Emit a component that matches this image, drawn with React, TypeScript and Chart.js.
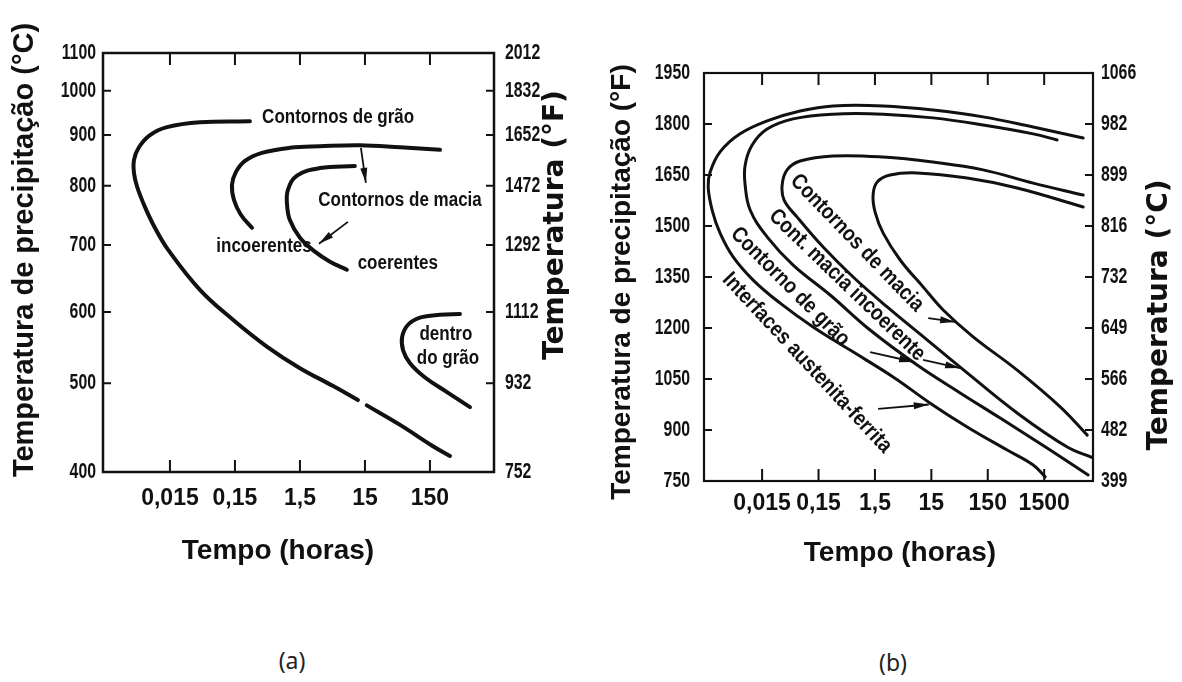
import React, { useEffect, useRef } from "react";
import { Chart, registerables, LinearScale } from "chart.js";

// ================= Panel (a): time (h) vs temperature (°C) =================
const aTimeTicks = [0.015, 0.15, 1.5, 15, 150];
const aTimeTickLabels = ["0,015", "0,15", "1,5", "15", "150"];
const aTempTicksC = [400, 500, 600, 700, 800, 900, 1000, 1100];
const aTempTickLabelsF = ["752", "932", "1112", "1292", "1472", "1652", "1832", "2012"];

// "Contornos de grão" (has a small break in the printed line)
const aGrainTime = [0.255, 0.0434, 0.0135, 0.0074, 0.005, 0.0042, 0.0042, 0.0047, 0.0062, 0.0088, 0.014, 0.0434, 0.14, 0.47, 1.5, 4.8, 11.7, 13.5, 16, 52, 167, 305];
const aGrainTemp = [931, 929, 918, 900, 876, 851, 825, 798, 764, 729, 693, 633, 589, 551, 521, 497, 481, null, 475, 453, 429, 418];
// "Contornos de macia incoerentes"
const aIncoherentTime = [214, 52, 12.6, 3.05, 1.05, 0.39, 0.214, 0.155, 0.135, 0.145, 0.185, 0.274];
const aIncoherentTemp = [871, 876, 880, 878, 875, 865, 849, 827, 802, 776, 751, 729];
// "Contornos de macia coerentes"
const aCoherentTime = [10.5, 3.05, 1.35, 0.98, 0.95, 1.05, 1.5, 2.55, 4.35, 7.9];
const aCoherentTemp = [839, 835, 820, 793, 768, 742, 712, 690, 675, 663];
// "dentro do grão"
const aInGrainTime = [434, 214, 105, 69, 56, 58, 74, 126, 274, 619];
const aInGrainTemp = [597, 596, 592, 582, 565, 546, 528, 508, 490, 473];

// ================= Panel (b): time (h) vs temperature (°F) =================
const bTimeTicks = [0.015, 0.15, 1.5, 15, 150, 1500];
const bTimeTickLabels = ["0,015", "0,15", "1,5", "15", "150", "1500"];
const bTempTicksF = [750, 900, 1050, 1200, 1350, 1500, 1650, 1800, 1950];
const bTempTickLabelsC = ["399", "482", "566", "649", "732", "816", "899", "982", "1066"];

// "Interfaces austenita-ferrita"
const bInterfaceTime = [7360, 957, 124, 16.1, 2.1, 0.272, 0.0708, 0.0184, 0.0061, 0.0027, 0.0018, 0.00166, 0.00195, 0.0027, 0.0046, 0.0104, 0.0313, 0.12, 0.544, 3.15, 14.3, 64.7, 331, 957, 1563];
const bInterfaceTemp = [1759, 1791, 1821, 1841, 1853, 1853, 1838, 1809, 1771, 1718, 1659, 1615, 1547, 1479, 1409, 1341, 1273, 1203, 1135, 1056, 979, 909, 841, 797, 762];
// "Contorno de grão"
const bGrainTime = [2547, 957, 124, 16.1, 2.1, 0.272, 0.0532, 0.0184, 0.01, 0.0075, 0.0075, 0.0092, 0.0184, 0.0532, 0.241, 1.23, 8.4, 48.6, 249, 1914, 9030];
const bGrainTemp = [1753, 1771, 1797, 1818, 1829, 1829, 1815, 1785, 1738, 1679, 1621, 1547, 1468, 1385, 1297, 1194, 1091, 1009, 935, 841, 768];
// "Cont. macia incoerente"
const bIncoherentTime = [7360, 957, 124, 16.1, 2.1, 0.272, 0.0708, 0.0416, 0.034, 0.0368, 0.0627, 0.181, 0.616, 2.47, 12.6, 64.7, 498, 3840, 11000];
const bIncoherentTemp = [1591, 1626, 1665, 1688, 1703, 1706, 1691, 1665, 1621, 1576, 1526, 1438, 1350, 1262, 1165, 1068, 950, 850, 818];
// "Contornos de macia"
const bTwinTime = [7360, 498, 64.7, 8.4, 2.79, 1.64, 1.39, 1.51, 2.1, 4.2, 10.7, 24.3, 82.6, 498, 2884, 8690];
const bTwinTemp = [1556, 1612, 1641, 1656, 1650, 1629, 1591, 1541, 1479, 1400, 1321, 1253, 1174, 1076, 968, 885];

// ================= styling =================
const INK = "#111";
const SANS = "'Liberation Sans', Arial, sans-serif";
const WIDE = "'DejaVu Sans', sans-serif";

// Scale whose printed tick spacing is not linear (panel a temperature axis)
class PiecewiseScale extends LinearScale {
  static id = "piecewise";
  static defaults = {};
  frac(v: number) {
    const vs = this.options.knotValues;
    const fs = this.options.knotFractions;
    const n = vs.length;
    let i = 1;
    if (v > vs[n - 1]) i = n - 1;
    else while (i < n - 1 && v > vs[i]) i++;
    return fs[i - 1] + ((v - vs[i - 1]) * (fs[i] - fs[i - 1])) / (vs[i] - vs[i - 1]);
  }
  getPixelForValue(v: any) {
    if (v === null || v === undefined || isNaN(v)) return NaN;
    return this.getPixelForDecimal(this.frac(v));
  }
  getValueForPixel(p: number) {
    const d = this.getDecimalForPixel(p);
    const vs = this.options.knotValues;
    const fs = this.options.knotFractions;
    const n = vs.length;
    let i = 1;
    while (i < n - 1 && d > fs[i]) i++;
    return vs[i - 1] + ((d - fs[i - 1]) * (vs[i] - vs[i - 1])) / (fs[i] - fs[i - 1]);
  }
}

Chart.register(...registerables, PiecewiseScale);

const zip = (ts: number[], vs: (number | null)[]) => ts.map((t, i) => ({ x: t, y: vs[i] }));

const curve = (data: any[], width: number) => ({
  data,
  showLine: true,
  borderColor: INK,
  backgroundColor: INK,
  borderWidth: width,
  pointRadius: 0,
  tension: 0.4,
  fill: false,
  spanGaps: false,
  borderCapStyle: "round",
  borderJoinStyle: "round",
});

function squeezed(ctx: any, text: string, x: number, y: number, sx: number, align: string) {
  ctx.save();
  ctx.translate(x, y);
  ctx.scale(sx, 1);
  ctx.textAlign = align;
  ctx.textBaseline = "middle";
  ctx.fillText(text, 0, 0);
  ctx.restore();
}

function decor(cfg: any) {
  return {
    id: "decor",
    afterDraw(chart: any) {
      const { ctx, chartArea: ca } = chart;
      const xs = chart.scales.x;
      const ys = chart.scales.y;
      const ys2 = chart.scales.y2;
      ctx.save();
      ctx.strokeStyle = INK;
      ctx.fillStyle = INK;
      ctx.lineWidth = cfg.tickWidth;
      ctx.beginPath();
      for (const t of xs.ticks) {
        const p = xs.getPixelForValue(t.value);
        ctx.moveTo(p, ca.bottom);
        ctx.lineTo(p, ca.bottom - cfg.xTick);
        ctx.moveTo(p, ca.top);
        ctx.lineTo(p, ca.top + cfg.xTick);
      }
      for (const t of ys.ticks) {
        const p = ys.getPixelForValue(t.value);
        ctx.moveTo(ca.left, p);
        ctx.lineTo(ca.left + cfg.yTick, p);
        ctx.moveTo(ca.right, p);
        ctx.lineTo(ca.right - cfg.yTick, p);
      }
      ctx.stroke();
      ctx.lineWidth = cfg.frameWidth;
      ctx.strokeRect(ca.left, ca.top, ca.right - ca.left, ca.bottom - ca.top);

      // condensed temperature tick labels on both sides
      ctx.font = cfg.yTickFont;
      ys.ticks.forEach((t: any, i: number) => {
        squeezed(ctx, cfg.leftLabels[i], ca.left - cfg.leftPad, ys.getPixelForValue(t.value), cfg.squeeze, "right");
      });
      ys2.ticks.forEach((t: any, i: number) => {
        squeezed(ctx, cfg.rightLabels[i], ca.right + cfg.rightPad, ys2.getPixelForValue(t.value), cfg.squeeze, "left");
      });

      for (const tt of cfg.titles) {
        ctx.save();
        ctx.translate(tt.x, tt.y);
        ctx.rotate((tt.rot * Math.PI) / 180);
        ctx.font = tt.font;
        ctx.textAlign = "center";
        ctx.textBaseline = "middle";
        ctx.fillText(tt.text, 0, 0);
        ctx.restore();
      }
      ctx.font = cfg.labelFont;
      for (const l of cfg.labels) {
        const px = xs.getPixelForValue(l.t);
        const py = ys.getPixelForValue(l.v);
        ctx.save();
        ctx.translate(px, py);
        ctx.rotate(((l.angle || 0) * Math.PI) / 180);
        squeezed(ctx, l.text, 0, 0, cfg.labelSqueeze, "center");
        ctx.restore();
      }
      for (const a of cfg.arrows) {
        const x1 = xs.getPixelForValue(a.from[0]);
        const y1 = ys.getPixelForValue(a.from[1]);
        const x2 = xs.getPixelForValue(a.to[0]);
        const y2 = ys.getPixelForValue(a.to[1]);
        ctx.lineWidth = 1.8;
        ctx.beginPath();
        ctx.moveTo(x1, y1);
        ctx.lineTo(x2, y2);
        ctx.stroke();
        const ang = Math.atan2(y2 - y1, x2 - x1);
        ctx.save();
        ctx.translate(x2, y2);
        ctx.rotate(ang);
        ctx.beginPath();
        ctx.moveTo(0, 0);
        ctx.lineTo(-15, -3.5);
        ctx.lineTo(-15, 3.5);
        ctx.closePath();
        ctx.fill();
        ctx.restore();
      }
      ctx.restore();
    },
  };
}

const timeFont = { family: SANS, size: 23, weight: "bold" };

function timeAxis(min: number, max: number, ticks: number[], labels: string[], height: number, padding: number) {
  return {
    type: "logarithmic",
    position: "bottom",
    min,
    max,
    bounds: "data",
    afterBuildTicks: (s: any) => {
      s.ticks = ticks.map((v) => ({ value: v }));
    },
    afterFit: (s: any) => {
      s.height = height;
    },
    grid: { display: false, drawTicks: false },
    border: { display: false },
    ticks: {
      autoSkip: false,
      maxRotation: 0,
      minRotation: 0,
      padding,
      color: INK,
      font: timeFont,
      callback: (_v: any, i: number) => labels[i],
    },
  };
}

function tempAxis(extra: any, position: string, ticks: number[], width: number) {
  return {
    ...extra,
    position,
    bounds: "data",
    afterBuildTicks: (s: any) => {
      s.ticks = ticks.map((v) => ({ value: v }));
    },
    afterFit: (s: any) => {
      s.width = width;
    },
    grid: { display: false, drawTicks: false },
    border: { display: false },
    ticks: { display: false },
  };
}

function configA() {
  const knots = {
    type: "piecewise",
    min: 400,
    max: 1100,
    knotValues: aTempTicksC,
    knotFractions: [0, 0.212, 0.382, 0.542, 0.683, 0.804, 0.91, 1],
  };
  return {
    type: "scatter",
    data: {
      datasets: [
        curve(zip(aGrainTime, aGrainTemp), 4),
        curve(zip(aIncoherentTime, aIncoherentTemp), 4),
        curve(zip(aCoherentTime, aCoherentTemp), 4),
        curve(zip(aInGrainTime, aInGrainTemp), 4),
      ],
    },
    options: {
      animation: false,
      responsive: false,
      events: [],
      layout: { padding: { top: 53, left: 0, right: 0, bottom: 0 } },
      plugins: { legend: { display: false }, tooltip: { enabled: false } },
      scales: {
        x: timeAxis(0.0014, 1450, aTimeTicks, aTimeTickLabels, 128, 13),
        y: tempAxis(knots, "left", aTempTicksC, 103),
        y2: tempAxis(knots, "right", aTempTicksC, 96),
      },
    },
    plugins: [
      decor({
        tickWidth: 2,
        frameWidth: 2.5,
        xTick: 12,
        yTick: 8,
        yTickFont: `bold 22px ${SANS}`,
        squeeze: 0.72,
        leftLabels: aTempTicksC.map(String),
        rightLabels: aTempTickLabelsF,
        leftPad: 7,
        rightPad: 11,
        labelFont: `bold 20px ${SANS}`,
        labelSqueeze: 0.85,
        titles: [
          { text: "Temperatura de precipitação (°C)", x: 25, y: 250, rot: -90, font: `bold 29px ${SANS}` },
          { text: "Temperatura (°F)", x: 556, y: 225, rot: -90, font: `bold 28px ${WIDE}` },
          { text: "Tempo (horas)", x: 278, y: 551, rot: 0, font: `bold 28px ${SANS}` },
        ],
        labels: [
          { text: "Contornos de grão", t: 5.8, v: 940 },
          { text: "Contornos de macia", t: 52, v: 776 },
          { text: "incoerentes", t: 0.42, v: 697 },
          { text: "coerentes", t: 48, v: 672 },
          { text: "dentro", t: 264, v: 568 },
          { text: "do grão", t: 284, v: 535 },
        ],
        arrows: [
          { from: [13, 875], to: [15.5, 806] },
          { from: [8.2, 739], to: [2.94, 702] },
        ],
      }),
    ],
  };
}

function configB() {
  const lin = { type: "linear", min: 750, max: 1950 };
  return {
    type: "scatter",
    data: {
      datasets: [
        curve(zip(bInterfaceTime, bInterfaceTemp), 3),
        curve(zip(bGrainTime, bGrainTemp), 3),
        curve(zip(bIncoherentTime, bIncoherentTemp), 3),
        curve(zip(bTwinTime, bTwinTemp), 3),
      ],
    },
    options: {
      animation: false,
      responsive: false,
      events: [],
      layout: { padding: { top: 73, left: 0, right: 0, bottom: 0 } },
      plugins: { legend: { display: false }, tooltip: { enabled: false } },
      scales: {
        x: timeAxis(0.0014, 11000, bTimeTicks, bTimeTickLabels, 119, 9),
        y: tempAxis(lin, "left", bTempTicksF, 114),
        y2: tempAxis(lin, "right", bTempTicksF, 89),
      },
    },
    plugins: [
      decor({
        tickWidth: 2,
        frameWidth: 2.2,
        xTick: 12,
        yTick: 8,
        yTickFont: `bold 22px ${SANS}`,
        squeeze: 0.72,
        leftLabels: bTempTicksF.map(String),
        rightLabels: bTempTickLabelsC,
        leftPad: 14,
        rightPad: 8,
        labelFont: `bold 22px ${SANS}`,
        labelSqueeze: 0.86,
        titles: [
          { text: "Temperatura de precipitação (°F)", x: 32, y: 282, rot: -90, font: `bold 28px ${SANS}` },
          { text: "Temperatura (°C)", x: 570, y: 315, rot: -90, font: `bold 28px ${WIDE}` },
          { text: "Tempo (horas)", x: 310, y: 553, rot: 0, font: `bold 28px ${SANS}` },
        ],
        labels: [
          { text: "Contornos de macia", t: 0.72, v: 1450, angle: 46 },
          { text: "Cont. macia incoerente", t: 0.48, v: 1326, angle: 44 },
          { text: "Contorno de grão", t: 0.047, v: 1321, angle: 45 },
          { text: "Interfaces austenita-ferrita", t: 0.094, v: 1097, angle: 47 },
        ],
        arrows: [
          { from: [13.2, 1229], to: [39.6, 1218] },
          { from: [10.7, 1106], to: [48.6, 1082] },
          { from: [1.23, 1129], to: [7.4, 1100] },
          { from: [1.71, 962], to: [13.5, 975] },
        ],
      }),
    ],
  };
}

function Panel({ make, left, width, height }: any) {
  const ref = useRef<HTMLCanvasElement | null>(null);
  useEffect(() => {
    const chart = new Chart(ref.current as HTMLCanvasElement, make());
    return () => chart.destroy();
  }, []);
  return (
    <canvas
      ref={ref}
      width={width}
      height={height}
      style={{ position: "absolute", left, top: 0, width, height, display: "block" }}
    />
  );
}

export default function App() {
  const caption = {
    position: "absolute" as const,
    fontFamily: "'Noto Sans', sans-serif",
    fontSize: 23,
    color: "#222",
    transform: "translate(-50%, -50%)",
    lineHeight: 1,
  };
  return (
    <div style={{ position: "absolute", left: 0, top: 0, width: 1182, height: 682, background: "#fff", overflow: "hidden" }}>
      <Panel make={configA} left={0} width={590} height={600} />
      <Panel make={configB} left={590} width={592} height={600} />
      <div style={{ ...caption, left: 292, top: 660 }}>(a)</div>
      <div style={{ ...caption, left: 893, top: 662 }}>(b)</div>
    </div>
  );
}
